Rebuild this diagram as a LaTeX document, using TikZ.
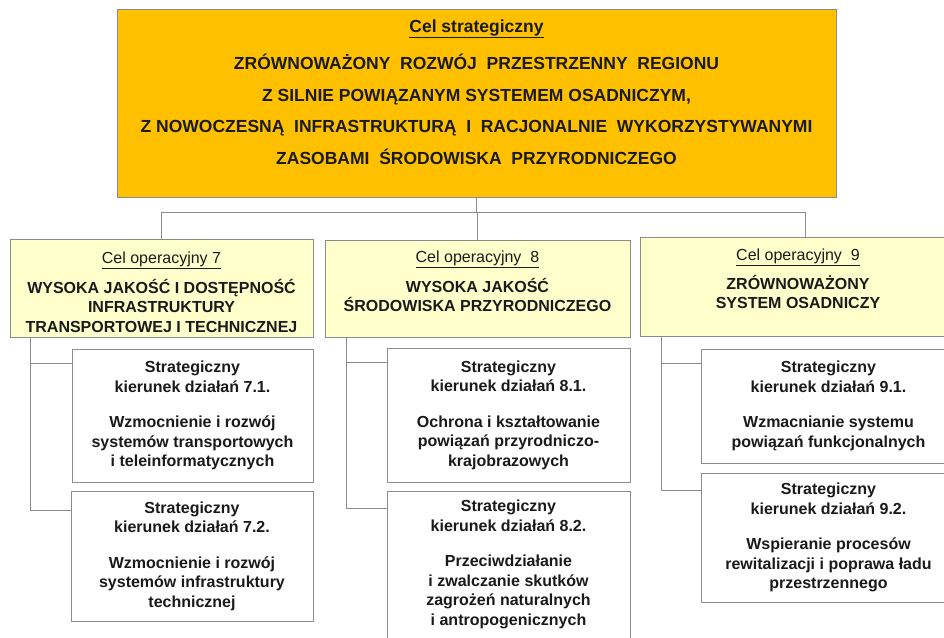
\documentclass[tikz,border=0pt]{standalone}
\usepackage{fontspec}
\setmainfont{Liberation Sans}
\usetikzlibrary{shadows,calc}
\definecolor{orangeY}{HTML}{FFC000}
\definecolor{paleY}{HTML}{FFFFCC}
\definecolor{lineG}{HTML}{8C8C8C}
\definecolor{txt}{HTML}{1A1A1A}
\begin{document}
\begin{tikzpicture}[x=1pt,y=-1pt,
  box/.style={draw=lineG, line width=1pt, inner sep=0pt, outer sep=0pt,
    drop shadow={shadow xshift=1.3pt, shadow yshift=-1.3pt, opacity=0.3, fill=black}},
  mainbox/.style={box, fill=orangeY},
  opbox/.style={box, fill=paleY},
  subbox/.style={box, fill=white, align=center, text=txt,
    font=\fontsize{16}{19.5}\selectfont\bfseries},
  toptext/.style={anchor=north, inner sep=0pt, align=center, text=txt,
    font=\fontsize{17.5}{31.7}\selectfont\bfseries},
  optext/.style={anchor=north, inner sep=0pt, align=center, text=txt,
    font=\fontsize{16}{19.2}\selectfont\bfseries},
  conn/.style={draw=lineG, line width=1pt}]
\useasboundingbox (0,0) rectangle (944,637);
\clip (0,0) rectangle (944,637);
% top
\node[mainbox, minimum width=719pt, minimum height=188pt] (top) at (476.5,103) {};
\node[toptext] (t0) at (476.5,19.5) {\underline{Cel strategiczny}\\[5.4pt]
ZRÓWNOWAŻONY\ \ ROZWÓJ\ \ PRZESTRZENNY\ \ REGIONU\\
Z SILNIE POWIĄZANYM SYSTEMEM OSADNICZYM,\\
Z NOWOCZESNĄ\ \ INFRASTRUKTURĄ\ \ I\ \ RACJONALNIE\ \ WYKORZYSTYWANYMI\\
ZASOBAMI\ \ ŚRODOWISKA\ \ PRZYRODNICZEGO};
% operational
\node[opbox, minimum width=303pt, minimum height=98pt] (b7) at (161.5,288) {};
\node[opbox, minimum width=305pt, minimum height=97pt] (b8) at (477.5,288.5) {};
\node[opbox, minimum width=316pt, minimum height=99pt] (b9) at (798,286.5) {};
\node[optext] (t7) at (161.5,252) {\underline{\mdseries Cel operacyjny 7}\\[9.5pt]
WYSOKA JAKOŚĆ I DOSTĘPNOŚĆ\\ INFRASTRUKTURY\\ TRANSPORTOWEJ I TECHNICZNEJ};
\node[optext] (t8) at (477.5,251) {\underline{\mdseries Cel operacyjny\ \ 8}\\[9.5pt]
WYSOKA JAKOŚĆ\\ ŚRODOWISKA PRZYRODNICZEGO};
\node[optext] (t9) at (798,249) {\underline{\mdseries Cel operacyjny\ \ 9}\\[8.5pt]
ZRÓWNOWAŻONY\\ SYSTEM OSADNICZY};
% sub boxes
\node[subbox, minimum width=241pt, minimum height=133pt] (s71) at (192.5,415.5)
 {Strategiczny\\ kierunek działań 7.1.\\[16pt] Wzmocnienie i rozwój\\ systemów transportowych\\ i teleinformatycznych};
\node[subbox, minimum width=242pt, minimum height=130pt] (s72) at (192,556)
 {Strategiczny\\ kierunek działań 7.2.\\[16pt] Wzmocnienie i rozwój\\ systemów infrastruktury\\ technicznej};
\node[subbox, minimum width=243pt, minimum height=134pt] (s81) at (508.5,415)
 {Strategiczny\\ kierunek działań 8.1.\\[16pt] Ochrona i kształtowanie\\ powiązań przyrodniczo-\\ krajobrazowych};
\node[subbox, minimum width=243pt, minimum height=147pt] (s82) at (508.5,564.5)
 {Strategiczny\\ kierunek działań 8.2.\\[16pt] Przeciwdziałanie\\ i zwalczanie skutków\\ zagrożeń naturalnych\\ i antropogenicznych};
\node[subbox, minimum width=255pt, minimum height=114pt] (s91) at (828.5,406)
 {Strategiczny\\ kierunek działań 9.1.\\[16pt] Wzmacnianie systemu\\ powiązań funkcjonalnych};
\node[subbox, minimum width=255pt, minimum height=129pt] (s92) at (828.5,537.5)
 {Strategiczny\\ kierunek działań 9.2.\\[16pt] Wspieranie procesów\\ rewitalizacji i poprawa ładu\\ przestrzennego};
% connectors
\coordinate (jn) at (476.5,212);
\draw[conn] (top.south) -- (jn);
\draw[conn] (jn) -| (b7.north);
\draw[conn] (jn) -| (b8.north);
\draw[conn] (jn) -| ($(b9.north)+(7,0)$);
\draw[conn] ($(b7.south west)+(20,0)$) |- ($(s71.north west)+(0,14)$);
\draw[conn] ($(b7.south west)+(20,0)$) |- ($(s72.north west)+(0,19)$);
\draw[conn] ($(b8.south west)+(21,0)$) |- ($(s81.north west)+(0,14)$);
\draw[conn] ($(b8.south west)+(21,0)$) |- ($(s82.north west)+(0,17)$);
\draw[conn] ($(b9.south west)+(21,0)$) |- ($(s91.north west)+(0,14)$);
\draw[conn] ($(b9.south west)+(21,0)$) |- ($(s92.north west)+(0,17)$);
\end{tikzpicture}
\end{document}
